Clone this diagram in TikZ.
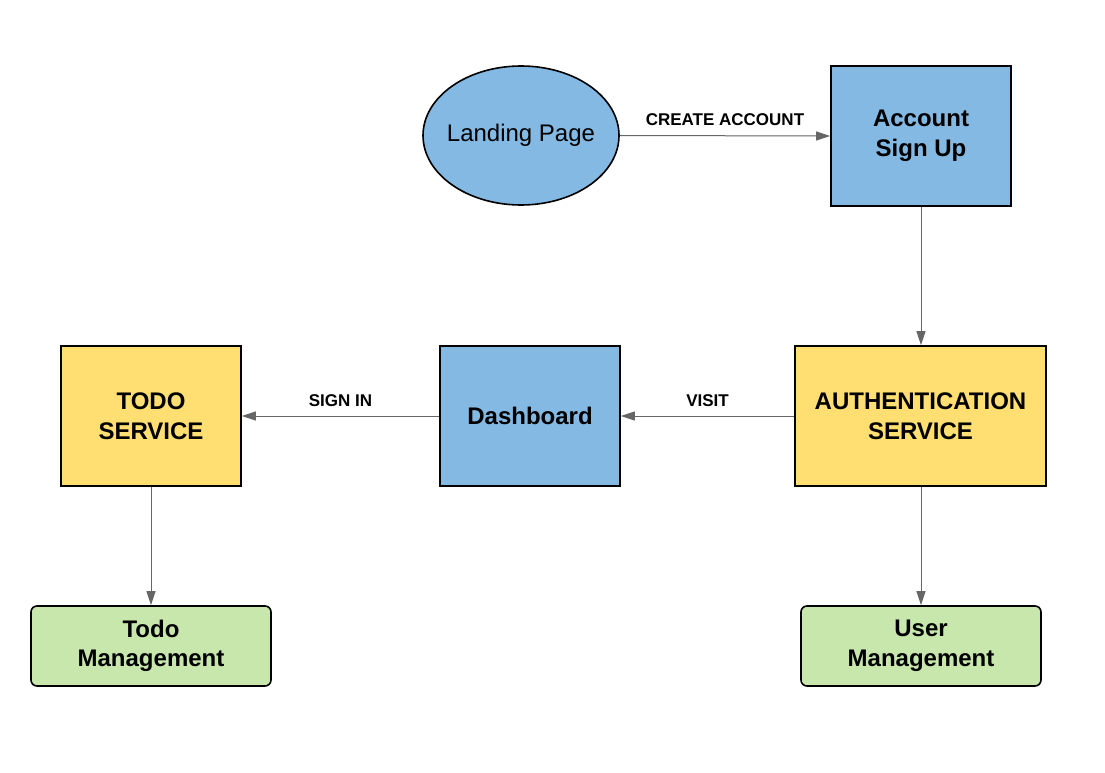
\documentclass[tikz,border=0pt]{standalone}
\usepackage{fontspec}
\setmainfont{Liberation Sans}
\usetikzlibrary{%
  arrows.meta,%
  shapes.geometric,%
}

\definecolor{boxblue}{HTML}{83B9E3}
\definecolor{boxyellow}{HTML}{FFDF71}
\definecolor{boxgreen}{HTML}{C7E7AD}
\definecolor{linkgray}{HTML}{666666}

\begin{document}
\begin{tikzpicture}[x=1pt, y=-1pt,
    font=\fontsize{24}{29.5}\selectfont,
    page/.style={draw=black, line width=1.6pt, align=center, inner sep=0pt},
    screen/.style={page, fill=boxblue, minimum width=180pt, minimum height=140pt},
    service/.style={page, fill=boxyellow, minimum height=140pt},
    store/.style={page, fill=boxgreen, rounded corners=6pt, minimum width=240pt, minimum height=80pt},
    link/.style={draw=linkgray, line width=1pt, -{Triangle[length=14pt, width=9pt]}},
    linklabel/.style={font=\fontsize{17}{20}\selectfont\bfseries, text=black},
  ]

      \useasboundingbox [fill=white] (0, 0) rectangle (1105, 773);

      \node [page, fill=boxblue, ellipse, inner xsep=-6pt, minimum width=196pt, minimum height=139pt]
        (landing) at (521, 135.5) {Landing Page};

      \node [screen] (signup) at (921, 136) {\textbf{Account}\\\textbf{Sign Up}};

      \node [service, minimum width=251pt] (auth) at (920.5, 416) {\textbf{AUTHENTICATION}\\\textbf{SERVICE}};

      \node [screen] (dashboard) at (530, 416) {\textbf{Dashboard}};

      \node [service, minimum width=180pt] (todo) at (151, 416) {\textbf{TODO}\\\textbf{SERVICE}};

      \node [store] (todomgmt) at (151, 646) {\textbf{Todo}\\\textbf{Management}};

      \node [store] (usermgmt) at (921, 646) {\textbf{User}\\\textbf{Management}};

      \draw [link] (landing.east) -- (signup.west)
        node [linklabel, midway, above=6pt] {CREATE ACCOUNT};

      \draw [link] (signup.south) -- (auth.north -| signup.south);

      \draw [link] (auth.west) -- (dashboard.east)
        node [linklabel, midway, above=6pt] {VISIT};

      \draw [link] (dashboard.west) -- (todo.east)
        node [linklabel, midway, above=6pt] {SIGN IN};

      \draw [link] (todo.south) -- (todomgmt.north);

      \draw [link] (auth.south -| usermgmt.north) -- (usermgmt.north);
    \end{tikzpicture}
\end{document}
